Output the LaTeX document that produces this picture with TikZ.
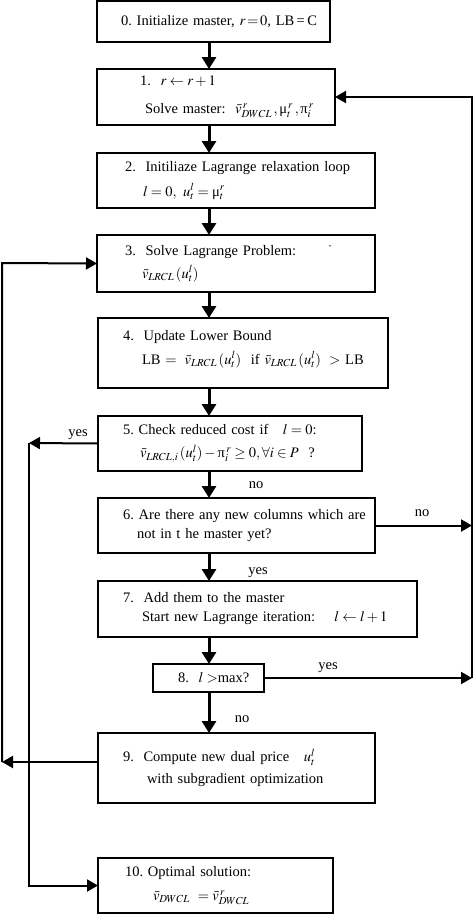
\documentclass[tikz,border=0pt]{standalone}
\usepackage{amsmath}
\usepackage{mathptmx}
\usepackage{fontspec}
\setmainfont{Liberation Serif}
\usetikzlibrary{arrows.meta}

\newcommand{\boxline}[2]{\hspace*{#1}\mbox{#2}}
\newcommand{\umu}{\text{μ}}
\newcommand{\upi}{\text{π}}
\frenchspacing

\begin{document}
\begin{tikzpicture}[x=1pt, y=-1pt,
stepbox/.style={draw,line width=1.6pt,anchor=north west,inner sep=0pt,outer sep=0pt,align=left,font=\fontsize{14.5}{17}\selectfont},
answer/.style={anchor=base,inner sep=0pt,font=\fontsize{14.5}{17}\selectfont},
flow/.style={-{Triangle[length=12pt,width=14pt]},line width=3pt},
back/.style={-{Triangle[length=11pt,width=12pt]},line width=2pt}
]
\useasboundingbox (0,0) rectangle (474,914);
\coordinate (mid) at (209,0);
\coordinate (rt) at (472,97);
\coordinate (outer) at (2,263);
\coordinate (inner) at (29,443);

\node[stepbox, text width=233pt, minimum height=41pt] (b0) at (97,1)
  {\boxline{24pt}{0. Initialize master, $\thickmuskip=2mu r = 0$, LB\,=\,C}};
\node[stepbox, text width=238pt, minimum height=56pt] (b1) at (97,69)
  {\boxline{43pt}{1.\ \ $r \leftarrow r+1$}\\[11pt]
   \boxline{48pt}{Solve master: \ $\bar{v}^{\,r}_{DWCL}\,,\umu^{\,r}_{t}\,,\upi^{\,r}_{i}$}};
\node[stepbox, text width=278pt, minimum height=55pt] (b2) at (97,153)
  {\boxline{28pt}{2.\ \ Initiliaze Lagrange relaxation loop}\\[8pt]
   \boxline{46pt}{$l=0,\ u^{l}_{t} = \umu^{r}_{t}$}};
\node[stepbox, text width=278pt, minimum height=57pt] (b3) at (97,235)
  {\boxline{28pt}{3.\ \ Solve Lagrange Problem:}\\[6pt]
   \boxline{45pt}{$\bar{v}_{LRCL}\,(u^{l}_{t})$}};
\node[font=\fontsize{9}{10}\selectfont] (mark) at (330,247) {-};
\node[stepbox, text width=290pt, minimum height=70pt] (b4) at (98,318)
  {\boxline{25pt}{4.\ \ Update Lower Bound}\\[7pt]
   \boxline{44pt}{LB $=\ \bar{v}_{LRCL}\,(u^{l}_{t})$ \ if $\bar{v}_{LRCL}\,(u^{l}_{t})\ >$ LB}\\[-5pt]\mbox{}};
\node[stepbox, text width=264pt, minimum height=55pt] (b5) at (98,416)
  {\boxline{25pt}{5. Check reduced cost if \ \ $l=0$:}\\[6pt]
   \boxline{42pt}{$\bar{v}_{LRCL,i}\,(u^{l}_{t})-\upi^{\,r}_{i}\ge 0,\forall i\in P$ \ ?}};
\node[stepbox, text width=277pt, minimum height=55pt] (b6) at (98,498)
  {\boxline{25pt}{6. Are there any new columns which are}\\[2pt]
   \boxline{39pt}{not in t he master yet?}};
\node[stepbox, text width=319pt, minimum height=56pt] (b7) at (98,581)
  {\boxline{25pt}{7.\ \ Add them to the master}\\[2pt]
   \boxline{44pt}{Start new Lagrange iteration: \quad $l \leftarrow l+1$}};
\node[stepbox, text width=111pt, minimum height=28pt] (b8) at (153,664)
  {\boxline{25pt}{8.\ \ $l >$max?}};
\node[stepbox, text width=277pt, minimum height=70pt] (b9) at (98,733)
  {\boxline{25pt}{9.\ \ Compute new dual price \ \ $u^{l}_{t}$}\\[5pt]
   \boxline{49pt}{with subgradient optimization}};
\node[stepbox, text width=235pt, minimum height=55pt] (b10) at (98,858)
  {\boxline{27pt}{10. Optimal solution:}\\[7pt]
   \boxline{55pt}{$\bar{v}_{DWCL}\ = \bar{v}^{\,r}_{DWCL}$}};

% answers
\node[answer] (yes5) at (78,436) {yes};
\node[answer] (no5) at (256,488) {no};
\node[answer] (no6) at (422,516) {no};
\node[answer] (yes6) at (258,574) {yes};
\node[answer] (yes8) at (328,669) {yes};
\node[answer] (no8) at (242,722) {no};

% main flow
\draw[flow] (b0.south -| mid) -- (b1.north -| mid);
\draw[flow] (b1.south -| mid) -- (b2.north -| mid);
\draw[flow] (b2.south -| mid) -- (b3.north -| mid);
\draw[flow] (b3.south -| mid) -- (b4.north -| mid);
\draw[flow] (b4.south -| mid) -- (b5.north -| mid);
\draw[flow] (b5.south -| mid) -- (b6.north -| mid);
\draw[flow] (b6.south -| mid) -- (b7.north -| mid);
\draw[flow] (b7.south -| mid) -- (b8.north -| mid);
\draw[flow] (b8.south -| mid) -- (b9.north -| mid);

% back to the master
\draw[back] (b6.east) -- (b6.east -| rt);
\draw[back] (b8.east) -- (b8.east -| rt);
\draw[back] (b8.east -| rt) -- (rt) -- (b1.east);

% new Lagrange iteration
\draw[back] ([yshift=6pt]b9.west) -- ([yshift=6pt]b9.west -| outer);
\draw[back] ([yshift=6pt]b9.west -| outer) -- (outer) -- (b3.west);

% optimal
\draw[back] (b5.west) -- (inner);
\draw[back] (inner) -- (inner |- b10.west) -- (b10.west);
\end{tikzpicture}
\end{document}
